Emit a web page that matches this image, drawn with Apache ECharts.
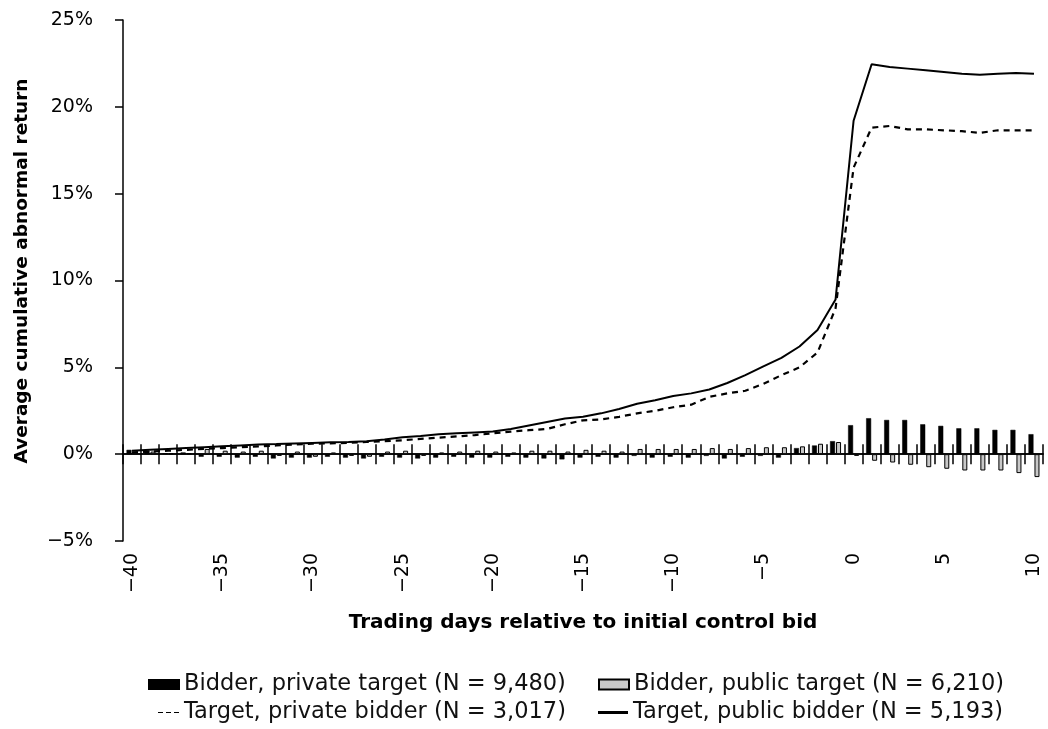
<!DOCTYPE html>
<html>
<head>
<meta charset="utf-8">
<script src="https://cdn.jsdelivr.net/npm/echarts@6/dist/echarts.min.js"></script>
<style>
  html, body { margin: 0; padding: 0; background: #fff; }
  #chart { width: 1048px; height: 729px; }
</style>
</head>
<body>
<div id="chart"></div>
<script>
// ---- data ----
const days = ['−40','−39','−38','−37','−36','−35','−34','−33','−32','−31',
              '−30','−29','−28','−27','−26','−25','−24','−23','−22','−21',
              '−20','−19','−18','−17','−16','−15','−14','−13','−12','−11',
              '−10','−9','−8','−7','−6','−5','−4','−3','−2','−1',
              '0','1','2','3','4','5','6','7','8','9','10'];

const bidderPrivate = [0.25, 0.2, 0.05, 0.1, -0.15, -0.15, -0.2, -0.15, -0.25, -0.2,
                       -0.2, -0.15, -0.2, -0.25, -0.15, -0.2, -0.25, -0.2, -0.15, -0.2,
                       -0.2, -0.15, -0.2, -0.25, -0.3, -0.2, -0.15, -0.2, -0.1, -0.2,
                       -0.15, -0.2, -0.1, -0.25, -0.15, -0.1, -0.2, 0.35, 0.5, 0.75,
                       1.67, 2.07, 1.97, 1.97, 1.72, 1.63, 1.49, 1.49, 1.4, 1.4, 1.15];

const bidderPublic = [0.1, 0.15, 0.05, 0.05, 0.3, 0.2, 0.15, 0.2, -0.1, 0.15,
                      -0.15, 0.1, -0.1, -0.15, 0.15, 0.2, -0.1, 0.1, 0.15, 0.2,
                      0.15, 0.1, 0.2, 0.2, 0.15, 0.25, 0.2, 0.15, 0.3, 0.3,
                      0.3, 0.3, 0.35, 0.3, 0.35, 0.4, 0.4, 0.45, 0.6, 0.7,
                      -0.1, -0.38, -0.48, -0.61, -0.75, -0.84, -0.94, -0.94, -0.94, -1.09, -1.32];

const targetPrivate = [0.1, 0.15, 0.2, 0.25, 0.3, 0.35, 0.4, 0.45, 0.5, 0.55,
                       0.6, 0.62, 0.65, 0.7, 0.75, 0.8, 0.88, 0.95, 1.02, 1.1,
                       1.2, 1.3, 1.38, 1.45, 1.72, 1.95, 2.0, 2.15, 2.35, 2.5,
                       2.7, 2.85, 3.3, 3.5, 3.65, 4.05, 4.55, 5.0, 5.85, 8.4,
                       16.5, 18.8, 18.9, 18.7, 18.7, 18.65, 18.6, 18.5, 18.65, 18.65, 18.65];

const targetPublic = [0.2, 0.25, 0.3, 0.35, 0.4, 0.45, 0.5, 0.55, 0.58, 0.62,
                      0.65, 0.68, 0.7, 0.75, 0.85, 0.98, 1.05, 1.15, 1.2, 1.25,
                      1.3, 1.45, 1.65, 1.85, 2.05, 2.15, 2.35, 2.6, 2.9, 3.1,
                      3.35, 3.5, 3.72, 4.1, 4.55, 5.05, 5.55, 6.2, 7.15, 8.9,
                      19.2, 22.45, 22.3, 22.2, 22.1, 22.0, 21.9, 21.85, 21.9, 21.95, 21.9];

const yTickValues = [-5, 0, 5, 10, 15, 20, 25];
const yTickLabels = ['−5%', '0%', '5%', '10%', '15%', '20%', '25%'];

const names = {
  bPriv: 'Bidder, private target (N = 9,480)',
  bPub: 'Bidder, public target (N = 6,210)',
  tPriv: 'Target, private bidder (N = 3,017)',
  tPub: 'Target, public bidder (N = 5,193)'
};
const xTitle = 'Trading days relative to initial control bid';
const yTitle = 'Average cumulative abnormal return';

// ---- chart ----
const FONT = 'DejaVu Sans';
const chart = echarts.init(document.getElementById('chart'), null, { renderer: 'canvas' });

const legendText = { fontFamily: FONT, fontSize: 22.5, color: '#111' };
const tickAxisBase = {
  type: 'category',
  data: days,
  position: 'bottom',
  boundaryGap: true,
  axisLabel: { show: false },
  splitLine: { show: false }
};

const option = {
  animation: false,
  backgroundColor: '#fff',
  grid: { left: 123, right: 5, top: 20, bottom: 188, containLabel: false },
  xAxis: [
    {
      type: 'category',
      data: days,
      position: 'bottom',
      boundaryGap: true,
      axisLine: { show: false, onZero: false },
      axisTick: { show: false },
      axisLabel: {
        interval: 4, rotate: 90, margin: 12,
        fontFamily: FONT, fontSize: 19, color: '#000'
      },
      name: xTitle,
      nameLocation: 'middle',
      nameGap: 72,
      nameTextStyle: { fontFamily: FONT, fontSize: 20, fontWeight: 'bold', color: '#000' }
    },
    Object.assign({}, tickAxisBase, {
      axisLine: { show: true, onZero: true, onZeroAxisIndex: 0, lineStyle: { color: '#000', width: 1.5 } },
      axisTick: { show: true, interval: 0, inside: true, length: 10, lineStyle: { color: '#000', width: 1.5 } }
    }),
    Object.assign({}, tickAxisBase, {
      axisLine: { show: true, onZero: true, onZeroAxisIndex: 0, lineStyle: { color: '#000', width: 1.5 } },
      axisTick: { show: true, interval: 0, inside: false, length: 10, lineStyle: { color: '#000', width: 1.5 } }
    })
  ],
  yAxis: {
    type: 'value',
    min: -5, max: 25, interval: 5,
    axisLine: { show: true, onZero: false, lineStyle: { color: '#000', width: 1.5 } },
    axisTick: { show: true, length: 8, lineStyle: { color: '#000', width: 1.5 } },
    splitLine: { show: false },
    axisLabel: {
      margin: 30, fontFamily: FONT, fontSize: 19, color: '#000',
      formatter: function (v) {
        const i = yTickValues.indexOf(v);
        return i >= 0 ? yTickLabels[i] : '';
      }
    }
  },
  legend: [
    { data: [names.bPriv], left: 148, top: 673, padding: 0, icon: 'rect', itemWidth: 30, itemHeight: 9, itemGap: 0, textStyle: legendText },
    { data: [names.bPub], left: 598, top: 673, padding: 0, icon: 'rect', itemWidth: 30, itemHeight: 10, itemGap: 0, textStyle: legendText },
    { data: [names.tPriv], left: 158, top: 701, padding: 0, itemGap: 0,
      icon: 'path://M0,0h5v1h-5z M8,0h5v1h-5z M16,0h5v1h-5z', itemWidth: 21, itemHeight: 2.5, textStyle: legendText },
    { data: [names.tPub], left: 598, top: 701, padding: 0, itemGap: 0,
      icon: 'rect', itemWidth: 30, itemHeight: 3, textStyle: legendText }
  ],
  graphic: [
    {
      type: 'text',
      x: 22, y: 271,
      rotation: Math.PI / 2,
      style: {
        text: yTitle,
        fontFamily: FONT, fontSize: 18.5, fontWeight: 'bold', fill: '#000',
        textAlign: 'center', textVerticalAlign: 'middle'
      }
    }
  ],
  series: [
    {
      name: names.bPriv, type: 'bar', data: bidderPrivate,
      xAxisIndex: 0, barWidth: 5, barGap: '20%',
      itemStyle: { color: '#000', borderColor: '#000', borderWidth: 0.5 },
      z: 2
    },
    {
      name: names.bPub, type: 'bar', data: bidderPublic,
      xAxisIndex: 0, barWidth: 5, barGap: '20%',
      itemStyle: { color: '#c8c8c8', borderColor: '#000', borderWidth: 1 },
      z: 2
    },
    {
      name: names.tPriv, type: 'line', data: targetPrivate,
      xAxisIndex: 0, symbol: 'none',
      lineStyle: { color: '#000', width: 2.2, type: [6, 5] },
      itemStyle: { color: '#000' },
      z: 3
    },
    {
      name: names.tPub, type: 'line', data: targetPublic,
      xAxisIndex: 0, symbol: 'none',
      lineStyle: { color: '#000', width: 2 },
      itemStyle: { color: '#000' },
      z: 3
    }
  ]
};

chart.setOption(option);
</script>
</body>
</html>
